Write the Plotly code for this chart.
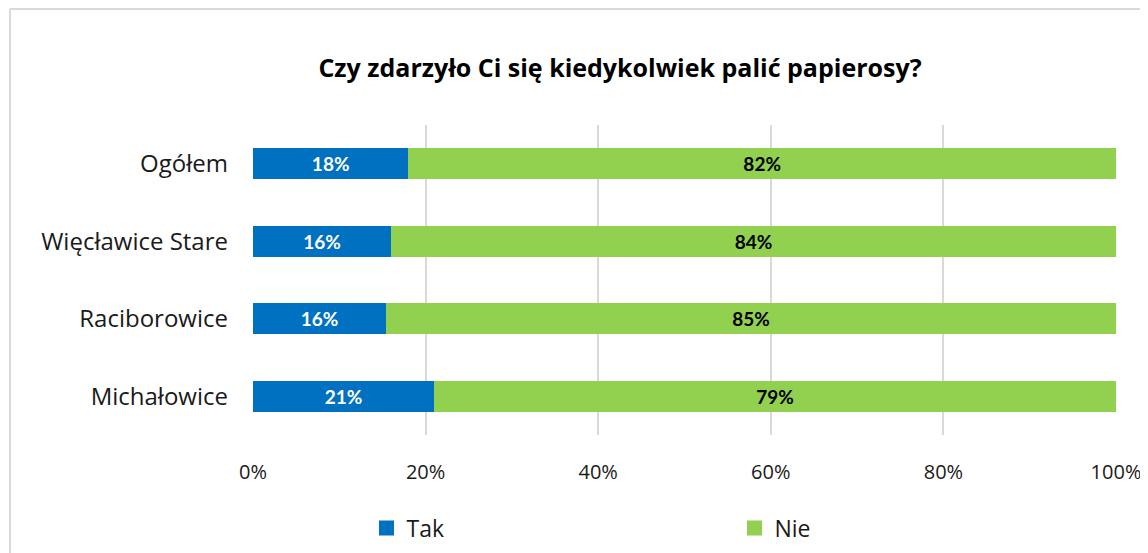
import plotly.graph_objects as go

categories = ["Ogółem", "Więcławice Stare", "Raciborowice", "Michałowice"]
tak_values = [18.0, 16.0, 15.4, 21.0]
nie_values = [82.0, 84.0, 84.6, 79.0]
tak_labels = ["18%", "16%", "16%", "21%"]
nie_labels = ["82%", "84%", "85%", "79%"]
tick_vals = [0, 20, 40, 60, 80, 100]
tick_text = ["0%", "20%", "40%", "60%", "80%", "100%"]

FONT = "'Open Sans', Lato, sans-serif"
LFONT = "Lato, 'Open Sans', sans-serif"
BLUE = "#0070C0"
GREEN = "#92D050"
OFF = 8  # page body margin

fig = go.Figure()
fig.add_trace(go.Bar(
    y=categories, x=tak_values, name="Tak", orientation="h",
    marker=dict(color=BLUE, line=dict(width=0)), showlegend=False,
    text=tak_labels, textposition="inside", insidetextanchor="middle",
    textfont=dict(family=LFONT, size=19, color="white", weight="bold"),
    textangle=0,
))
fig.add_trace(go.Bar(
    y=categories, x=nie_values, name="Nie", orientation="h",
    marker=dict(color=GREEN, line=dict(width=0)), showlegend=False,
    text=nie_labels, textposition="inside", insidetextanchor="middle",
    textfont=dict(family=LFONT, size=19, color="black", weight="bold"),
    textangle=0,
))
for nm, col in [("Tak", BLUE), ("Nie", GREEN)]:
    fig.add_trace(go.Scatter(
        x=[None], y=[None], mode="markers", name=nm,
        marker=dict(symbol="square", size=15, color=col),
    ))

W, H = 1148, 553
L, R, T, B = 253 - OFF, W - (1116 - OFF), 125 - OFF, H - (435 - OFF)
pw, ph = W - L - R, H - T - B

def px_x(p):
    return (p - OFF - L) / pw

def px_y(p):
    return (H - B - (p - OFF)) / ph

fig.update_layout(
    width=W, height=H,
    margin=dict(l=L, r=R, t=T, b=B, autoexpand=False),
    barmode="stack", bargap=0.6,
    plot_bgcolor="white", paper_bgcolor="white",
    font=dict(family=FONT, color="#1a1a1a"),
    title=dict(text="<b>Czy zdarzyło Ci się kiedykolwiek palić papierosy?</b>",
               x=(620 - OFF) / W, xanchor="center", y=1 - (68 - OFF) / H, yanchor="middle",
               font=dict(family=FONT, size=25, color="black")),
    xaxis=dict(range=[0, 100], tickvals=tick_vals, ticktext=tick_text,
               showgrid=True, gridcolor="#d9d9d9", gridwidth=2,
               zeroline=False, showline=False, ticks="",
               ticklabelstandoff=23,
               tickfont=dict(family=FONT, size=20, color="#1a1a1a")),
    yaxis=dict(autorange="reversed", showgrid=False, ticks="",
               ticklabelstandoff=24,
               tickfont=dict(family=FONT, size=24, color="#1a1a1a")),
    legend=dict(orientation="h", x=px_x(366.5), xanchor="left",
                y=px_y(528), yanchor="middle",
                entrywidth=323, entrywidthmode="pixels",
                font=dict(family=FONT, size=23, color="#1a1a1a"),
                traceorder="normal"),
    shapes=[
        dict(type="line", xref="paper", yref="paper",
             x0=px_x(10), x1=px_x(1170), y0=px_y(9), y1=px_y(9),
             line=dict(color="#d9d9d9", width=2)),
        dict(type="line", xref="paper", yref="paper",
             x0=px_x(10), x1=px_x(10), y0=px_y(9), y1=px_y(570),
             line=dict(color="#d9d9d9", width=2)),
    ],
)

fig.write_html("out.html")
